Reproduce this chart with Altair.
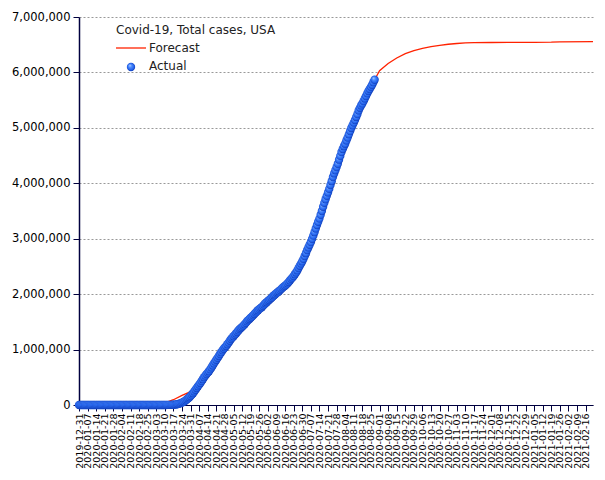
import altair as alt
import pandas as pd

title_text = "Covid-19, Total cases, USA"
series_names = ["Forecast", "Actual"]

# Actual cumulative cases, thousands, daily from 2019-12-31
actual_start = "2019-12-31"
dec_k = [0]
jan_k = [0] * 20 + [0.001, 0.001, 0.001, 0.002, 0.002, 0.005, 0.005, 0.005, 0.005, 0.005, 0.006]
feb_k = [0.007, 0.008, 0.011, 0.011, 0.011, 0.012, 0.012, 0.012, 0.012, 0.012,
         0.013, 0.013, 0.014, 0.014, 0.015, 0.015, 0.015, 0.015, 0.015, 0.015,
         0.015, 0.035, 0.035, 0.035, 0.053, 0.053, 0.059, 0.060, 0.062]
mar_k = [0.068, 0.075, 0.1, 0.124, 0.158, 0.221, 0.319, 0.435, 0.541, 0.704,
         0.994, 1.301, 1.697, 2.247, 2.943, 3.68, 4.663, 6.411, 7.786, 13.68,
         19.101, 25.493, 33.276, 43.847, 53.74, 65.778, 83.836, 101.657, 121.478, 140.886,
         161.807]
apr_k = [188, 213, 243, 275, 308, 337, 367, 398, 432, 466,
         501, 530, 558, 584, 609, 642, 676, 712, 748, 782,
         816, 850, 884, 918, 952, 985, 1015, 1040, 1065, 1095]
may_k = [1125, 1160, 1190, 1215, 1240, 1265, 1290, 1318, 1345, 1370,
         1390, 1410, 1432, 1455, 1482, 1508, 1532, 1552, 1574, 1594,
         1617, 1643, 1667, 1688, 1709, 1729, 1747, 1765, 1788, 1812,
         1835]
jun_k = [1855, 1876, 1895, 1914, 1934, 1958, 1980, 1997, 2018, 2034,
         2053, 2073, 2095, 2118, 2135, 2152, 2172, 2195, 2220, 2247,
         2276, 2298, 2326, 2358, 2390, 2428, 2470, 2512, 2550, 2590]
jul_k = [2637, 2687, 2739, 2795, 2841, 2890, 2938, 2997, 3055, 3118,
         3184, 3247, 3305, 3363, 3431, 3499, 3576, 3647, 3711, 3773,
         3834, 3899, 3970, 4038, 4112, 4178, 4234, 4292, 4351, 4426,
         4494]
aug_k = [4563, 4620, 4668, 4714, 4771, 4824, 4883, 4941, 4998, 5045,
         5094, 5141, 5197, 5248, 5313, 5361, 5403, 5438, 5482, 5529,
         5574, 5622, 5666, 5701, 5739, 5777, 5822, 5868]

forecast_dates = ["2020-02-25", "2020-03-03", "2020-03-10", "2020-03-17", "2020-03-24",
                  "2020-03-31", "2020-04-07", "2020-04-14", "2020-04-21", "2020-04-28",
                  "2020-05-05", "2020-05-12", "2020-05-19", "2020-05-26", "2020-06-02",
                  "2020-06-09", "2020-06-16", "2020-06-23", "2020-06-30", "2020-07-07",
                  "2020-07-14", "2020-07-21", "2020-07-28", "2020-08-04", "2020-08-11",
                  "2020-08-18", "2020-08-25", "2020-08-28", "2020-09-01", "2020-09-08",
                  "2020-09-15", "2020-09-22", "2020-09-29", "2020-10-06", "2020-10-13",
                  "2020-10-20", "2020-10-27", "2020-11-03", "2020-11-10", "2020-11-17",
                  "2020-12-01", "2020-12-15", "2021-01-05", "2021-01-19", "2021-01-26",
                  "2021-02-22"]
forecast_k = [5, 15, 38, 95, 175,
              240, 380, 580, 816, 1040,
              1240, 1410, 1574, 1729, 1876,
              2018, 2152, 2326, 2590, 2938,
              3363, 3834, 4292, 4714, 5094,
              5438, 5739, 5868, 6030, 6160,
              6260, 6340, 6395, 6435, 6465,
              6490, 6508, 6522, 6532, 6536,
              6540, 6542, 6544, 6546, 6552,
              6555]

tick_labels = ["2019-12-31", "2020-01-07", "2020-01-14", "2020-01-21", "2020-01-28",
               "2020-02-04", "2020-02-11", "2020-02-18", "2020-02-25", "2020-03-03",
               "2020-03-10", "2020-03-17", "2020-03-24", "2020-03-31", "2020-04-07",
               "2020-04-14", "2020-04-21", "2020-04-28", "2020-05-05", "2020-05-12",
               "2020-05-19", "2020-05-26", "2020-06-02", "2020-06-09", "2020-06-16",
               "2020-06-23", "2020-06-30", "2020-07-07", "2020-07-14", "2020-07-21",
               "2020-07-28", "2020-08-04", "2020-08-11", "2020-08-18", "2020-08-25",
               "2020-09-01", "2020-09-08", "2020-09-15", "2020-09-22", "2020-09-29",
               "2020-10-06", "2020-10-13", "2020-10-20", "2020-10-27", "2020-11-03",
               "2020-11-10", "2020-11-17", "2020-11-24", "2020-12-01", "2020-12-08",
               "2020-12-15", "2020-12-22", "2020-12-29", "2021-01-05", "2021-01-12",
               "2021-01-19", "2021-01-26", "2021-02-02", "2021-02-09", "2021-02-16"]
x_domain = ["2019-12-31", "2021-02-22"]
y_ticks = [0, 1000000, 2000000, 3000000, 4000000, 5000000, 6000000, 7000000]

actual_k = dec_k + jan_k + feb_k + mar_k + apr_k + may_k + jun_k + jul_k + aug_k
actual_dates = pd.date_range(actual_start, periods=len(actual_k), freq="D").strftime("%Y-%m-%d")
df_a = pd.DataFrame({"date": list(actual_dates), "cases": [v * 1000 for v in actual_k]})
df_f = pd.DataFrame({"date": forecast_dates, "cases": [v * 1000 for v in forecast_k]})

def ms(s):
    return int(pd.Timestamp(s, tz="UTC").value // 10**6)

tick_ms = [ms(s) for s in tick_labels]
dom_ms = [ms(s) for s in x_domain]

AXIS_COL = "#00003f"
FONT = "DejaVu Sans"
RED = "#ff2200"

x_enc = alt.X("date:T", scale=alt.Scale(type="utc", domain=dom_ms),
              axis=alt.Axis(values=tick_ms, format="%Y-%m-%d", labelAngle=270,
                            title=None, grid=False, tickSize=6, labelPadding=2,
                            labelFontSize=9.5, labelFont=FONT, labelColor="#000",
                            domainColor=AXIS_COL, tickColor=AXIS_COL, labelOverlap=False,
                            labelBound=False, labelFlush=False))
y_enc = alt.Y("cases:Q", scale=alt.Scale(domain=[0, 7000000], nice=False),
              axis=alt.Axis(values=y_ticks, format=",.0f", title=None, grid=True,
                            gridColor="#999999", gridDash=[2, 2], gridWidth=1,
                            tickSize=6, labelPadding=3, labelFontSize=11.5,
                            labelFont=FONT, labelColor="#000",
                            domainColor=AXIS_COL, tickColor=AXIS_COL, domainWidth=1.5))

sphere = alt.RadialGradient(
    gradient="radial",
    stops=[alt.GradientStop(offset=0, color="#d6e6ff"),
           alt.GradientStop(offset=0.3, color="#5592ff"),
           alt.GradientStop(offset=0.75, color="#2060ea"),
           alt.GradientStop(offset=1, color="#0c2fa0")],
    x1=0.35, y1=0.3, r1=0, x2=0.5, y2=0.5, r2=0.55)

forecast = alt.Chart(df_f).mark_line(color=RED, strokeWidth=1.3).encode(x=x_enc, y=y_enc)
actual = alt.Chart(df_a).mark_point(filled=True, fill=sphere, size=70, opacity=1,
                                    strokeWidth=0, shape="circle").encode(x=x_enc, y=y_enc)

leg_title = alt.Chart(pd.DataFrame({"t": [title_text]})).mark_text(
    align="left", baseline="middle", font=FONT, fontSize=12, color="#222").encode(
    text="t:N", x=alt.value(37), y=alt.value(13))
leg_line = alt.Chart(pd.DataFrame({"t": [series_names[0]]})).mark_rule(
    color=RED, strokeWidth=1.3).encode(x=alt.value(37), x2=alt.value(67), y=alt.value(31))
leg_pt = alt.Chart(pd.DataFrame({"t": [series_names[1]]})).mark_point(
    filled=True, fill=sphere, size=70, opacity=1, strokeWidth=0,
    shape="circle").encode(x=alt.value(52), y=alt.value(50))
leg_text1 = alt.Chart(pd.DataFrame({"t": [series_names[0]]})).mark_text(
    align="left", baseline="middle", font=FONT, fontSize=12, color="#222").encode(
    text="t:N", x=alt.value(70), y=alt.value(31))
leg_text2 = alt.Chart(pd.DataFrame({"t": [series_names[1]]})).mark_text(
    align="left", baseline="middle", font=FONT, fontSize=12, color="#222").encode(
    text="t:N", x=alt.value(70), y=alt.value(49))

chart = alt.layer(forecast, actual, leg_title, leg_line, leg_pt, leg_text1, leg_text2).properties(
    width=514, height=388,
    autosize=alt.AutoSizeParams(type="none"),
    padding={"left": 79, "top": 17, "right": 12, "bottom": 75},
    background="white",
).configure_view(stroke=None)

chart.save("out.html", embed_options={"renderer": "svg", "actions": False})
